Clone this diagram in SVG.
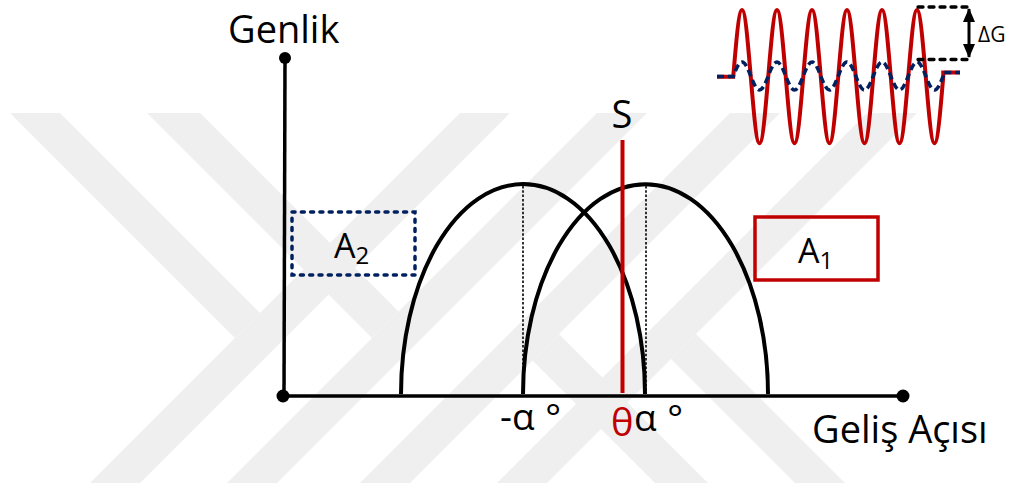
<svg xmlns="http://www.w3.org/2000/svg" width="1009" height="489" viewBox="0 0 1009 489">
<style>
.wm{fill:#efefef}
.ax{stroke:#000;stroke-width:3.5;fill:none}
.arch{stroke:#000;stroke-width:4;fill:none}
.guide{stroke:#000;stroke-width:1.6;stroke-dasharray:2.5 1.8;fill:none}
.t{font-family:"Open Sans","Liberation Sans",sans-serif;fill:#000}
.red{stroke:#c00000}
.navy{stroke:#002060}
.dash{stroke:#000;stroke-width:3.3;stroke-dasharray:5 6;stroke-linecap:round}
</style>
<defs>
<clipPath id="wmclip"><rect x="0" y="113" width="1009" height="370"/></clipPath>
<marker id="ah" markerUnits="userSpaceOnUse" markerWidth="14" markerHeight="12" viewBox="0 0 14 12" refX="13" refY="6" orient="auto-start-reverse"><path d="M0,0 L14,6 L0,12 z" fill="#000"/></marker>
</defs>
<rect width="1009" height="489" fill="#fff"/>
<g id="watermark" class="wm" clip-path="url(#wmclip)">
<polygon points="473,100 523,100 123,500 73,500"/>
<polygon points="610,100 660,100 260,500 210,500"/>
<polygon points="743,100 793,100 393,500 343,500"/>
<polygon points="880,100 930,100 530,500 480,500"/>
<polygon points="-3,100 47,100 260,313 235,338"/>
<polygon points="134,100 187,100 398.5,311.5 372,338"/>
<polygon points="812,500 862,500 696,334 671,359"/>
<polygon points="672,500 725,500 559,334 532.5,360.5"/>
</g>
<g id="axes">
<line class="ax" x1="285" y1="58" x2="284" y2="396"/>
<line class="ax" x1="284" y1="396" x2="903" y2="396"/>
<circle cx="285" cy="58" r="6"/>
<circle cx="283" cy="396" r="6.5"/>
<circle cx="903" cy="396" r="6.5"/>
</g>
<g id="label-genlik"><text class="t" x="228" y="43" font-size="38">Genlik</text></g>
<g id="label-gelis"><text class="t" x="812" y="443" font-size="38">Geliş Açısı</text></g>
<g id="curve-left">
<path class="arch" d="M401,394 A122,210 0 0 1 645,394"/>
<line class="guide" x1="523" y1="186" x2="523" y2="393"/>
</g>
<g id="curve-right">
<path class="arch" d="M523,394 A122.5,210 0 0 1 768,394"/>
<line class="guide" x1="646" y1="186" x2="646" y2="393"/>
</g>
<g id="signal-S">
<line x1="622.5" y1="140" x2="622.5" y2="393" stroke="#c00000" stroke-width="4"/>
<text class="t" x="622" y="128" font-size="38" text-anchor="middle">S</text>
</g>
<g id="tick-labels">
<text class="t" x="500" y="430" font-size="37">-α <tspan dx="1">°</tspan></text>
<text class="t" x="611" y="436" font-size="38" style="fill:#c00000">θ</text>
<text class="t" x="634" y="431" font-size="37">α <tspan dx="1">°</tspan></text>
</g>
<g id="box-A2">
<rect x="292" y="212" width="123" height="63" fill="none" stroke="#002060" stroke-width="3.5" stroke-dasharray="3 6.3" stroke-linecap="round"/>
<text class="t" x="334" y="258" font-size="34">A<tspan font-size="24" dy="6">2</tspan></text>
</g>
<g id="box-A1">
<rect x="755" y="217" width="123" height="63" fill="none" stroke="#c00000" stroke-width="3.5"/>
<text class="t" x="798" y="263" font-size="34">A<tspan font-size="24" dy="6">1</tspan></text>
</g>
<g id="wave">
<path class="red" fill="none" stroke-width="4" d="M717,76.7 H733.25 C736.1,42.5 738.83,10 742,10 C748.36,10 753.14,143.3 759.5,143.3 S770.64,10 777,10 S788.14,143.3 794.5,143.3 S805.64,10 812,10 S823.14,143.3 829.5,143.3 S840.64,10 847,10 S858.14,143.3 864.5,143.3 S875.64,10 882,10 S893.14,143.3 899.5,143.3 S910.64,10 917,10 S928.14,143.3 934.5,143.3 C937.67,143.3 940.4,110.9 943.25,76.7 V72.5 H960"/>
<path class="navy" fill="none" stroke-width="3.5" stroke-dasharray="7 4" d="M717,76.5 H733.25 C736.1,68.8 738.83,62 742,62 C748.36,62 753.14,90 759.5,90 S770.64,62 777,62 S788.14,90 794.5,90 S805.64,62 812,62 S823.14,90 829.5,90 S840.64,62 847,62 S858.14,90 864.5,90 S875.64,62 882,62 S893.14,90 899.5,90 S910.64,62 917,62 S928.14,90 934.5,90 C937.67,90 940.4,83.2 943.25,76 V72.5 H960"/>
</g>
<g id="delta-G">
<line class="dash" x1="918" y1="7" x2="970" y2="7"/>
<line class="dash" x1="918" y1="59.5" x2="970" y2="59.5"/>
<line x1="969" y1="9" x2="969" y2="57" stroke="#000" stroke-width="3" marker-start="url(#ah)" marker-end="url(#ah)"/>
<text class="t" x="978" y="42" font-size="21">ΔG</text>
</g>
</svg>
